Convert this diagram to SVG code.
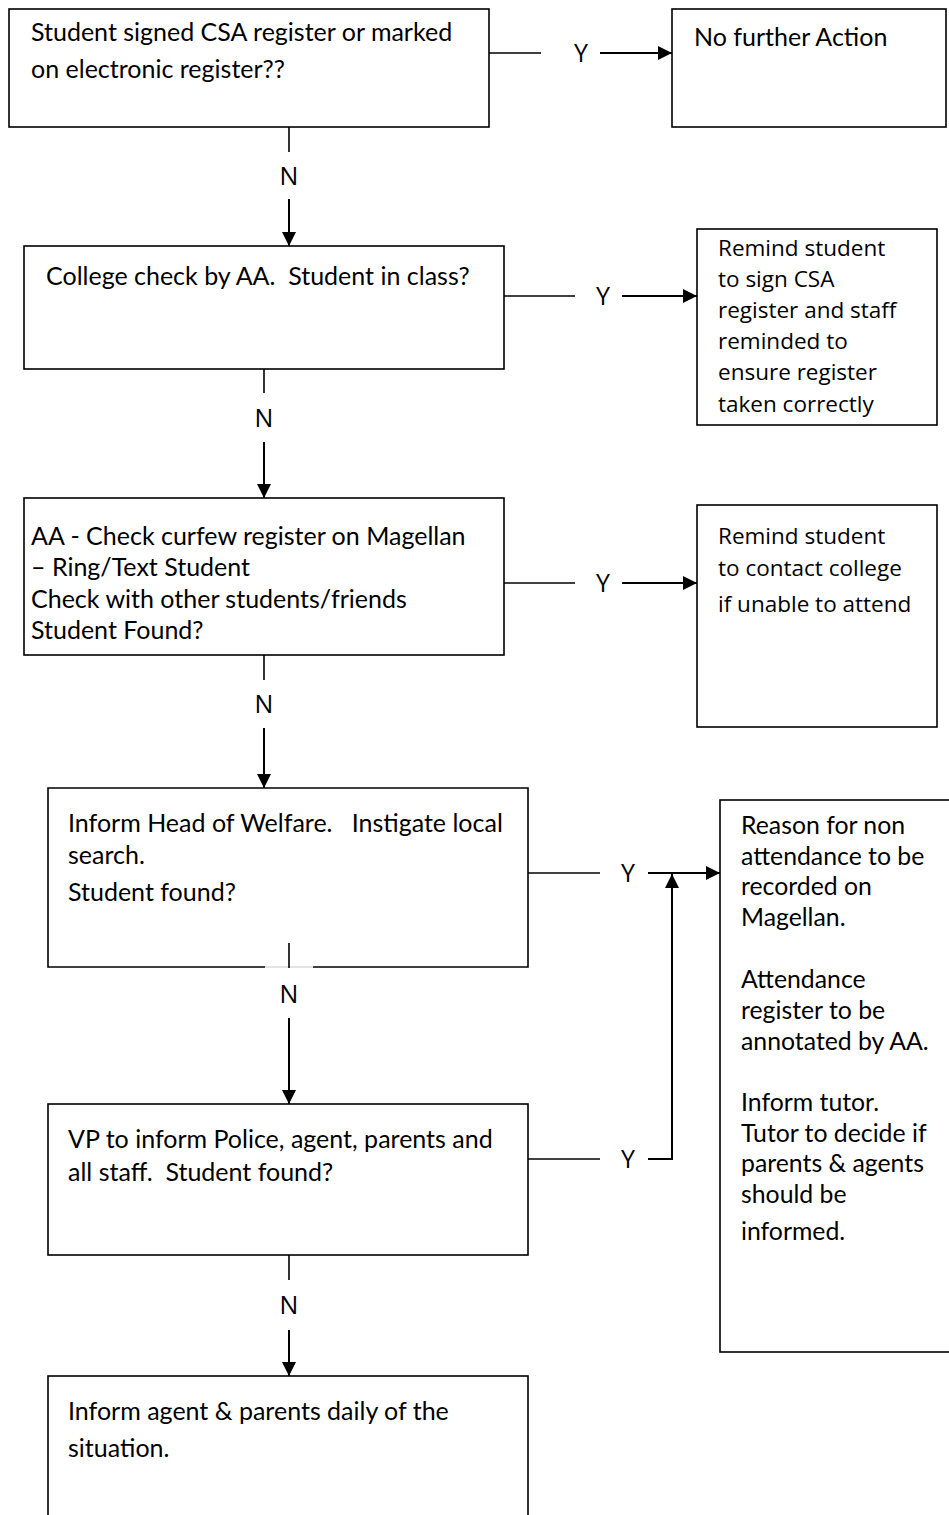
<svg xmlns="http://www.w3.org/2000/svg" width="949" height="1515" viewBox="0 0 949 1515">
<defs>
<style>
.box{fill:#fff;stroke:#000;stroke-width:1.6}
.ln{fill:none;stroke:#000;stroke-width:1.6}
.ar{fill:none;stroke:#000;stroke-width:2}
.t{font-family:Lato,"Liberation Sans",sans-serif;font-size:25px;fill:#000}
.r{font-family:"Open Sans","Liberation Sans",sans-serif;font-size:22.5px;fill:#000}
.g{font-family:Lato,"Liberation Sans",sans-serif;font-size:24.8px;fill:#000}
.lab{font-family:"Open Sans","Liberation Sans",sans-serif;font-size:25px;fill:#000;text-anchor:middle}
</style>
<marker id="ahb" viewBox="0 0 10 10" refX="10" refY="5" markerWidth="7" markerHeight="7" orient="auto">
<path d="M0,0 L10,5 L0,10 z" fill="#000"/>
</marker>
</defs>
<rect width="949" height="1515" fill="#fff"/>

<g id="n1">
<rect class="box" x="9" y="9" width="480" height="118"/>
<text class="t" x="31" y="41">Student signed CSA register or marked</text>
<text class="t" x="31" y="78">on electronic register??</text>
</g>
<g id="n1y">
<rect class="box" x="672" y="9" width="274" height="118"/>
<text class="t" x="694" y="46">No further Action</text>
</g>

<g id="n2">
<rect class="box" x="24" y="246" width="480" height="123"/>
<text class="t" x="46" y="285" xml:space="preserve">College check by AA.  Student in class?</text>
</g>
<g id="n2y">
<rect class="box" x="697" y="229" width="240" height="196"/>
<text class="r" x="718" y="256">Remind student</text>
<text class="r" x="718" y="287">to sign CSA</text>
<text class="r" x="718" y="318">register and staff</text>
<text class="r" x="718" y="349">reminded to</text>
<text class="r" x="718" y="380">ensure register</text>
<text class="r" x="718" y="412">taken correctly</text>
</g>

<g id="n3">
<rect class="box" x="24" y="498" width="480" height="157"/>
<text class="t" x="31" y="545">AA - Check curfew register on Magellan</text>
<text class="t" x="31" y="576">– Ring/Text Student</text>
<text class="t" x="31" y="608">Check with other students/friends</text>
<text class="t" x="31" y="639">Student Found?</text>
</g>
<g id="n3y">
<rect class="box" x="697" y="505" width="240" height="222"/>
<text class="r" x="718" y="544">Remind student</text>
<text class="r" x="718" y="576">to contact college</text>
<text class="r" x="718" y="612">if unable to attend</text>
</g>

<g id="n4">
<path class="box" d="M313,967 H528 V788 H48 V967 H265"/>
<line x1="265" y1="967" x2="313" y2="967" stroke="#c8c8c8" stroke-width="1"/>
<text class="t" x="68" y="832" xml:space="preserve">Inform Head of Welfare.   Instigate local</text>
<text class="t" x="68" y="864">search.</text>
<text class="t" x="68" y="901">Student found?</text>
</g>

<g id="n4y">
<rect class="box" x="720" y="800" width="245" height="552"/>
<text class="g" x="741" y="834">Reason for non</text>
<text class="g" x="741" y="865">attendance to be</text>
<text class="g" x="741" y="895">recorded on</text>
<text class="g" x="741" y="926">Magellan.</text>
<text class="g" x="741" y="988">Attendance</text>
<text class="g" x="741" y="1019">register to be</text>
<text class="g" x="741" y="1050">annotated by AA.</text>
<text class="g" x="741" y="1111">Inform tutor.</text>
<text class="g" x="741" y="1142">Tutor to decide if</text>
<text class="g" x="741" y="1172">parents &amp; agents</text>
<text class="g" x="741" y="1203">should be</text>
<text class="g" x="741" y="1240">informed.</text>
</g>

<g id="n5">
<rect class="box" x="48" y="1104" width="480" height="151"/>
<text class="t" x="68" y="1148">VP to inform Police, agent, parents and</text>
<text class="t" x="68" y="1181" xml:space="preserve">all staff.  Student found?</text>
</g>

<g id="n6">
<rect class="box" x="48" y="1376" width="480" height="160"/>
<text class="t" x="68" y="1420">Inform agent &amp; parents daily of the</text>
<text class="t" x="68" y="1457">situation.</text>
</g>

<g id="connectors">
<line class="ln" x1="489" y1="53" x2="541" y2="53"/>
<line class="ar" x1="600" y1="53" x2="672" y2="53" marker-end="url(#ahb)"/>
<line class="ln" x1="504" y1="296" x2="575" y2="296"/>
<line class="ar" x1="622" y1="296" x2="697" y2="296" marker-end="url(#ahb)"/>
<line class="ln" x1="504" y1="583" x2="575" y2="583"/>
<line class="ar" x1="622" y1="583" x2="697" y2="583" marker-end="url(#ahb)"/>
<line class="ln" x1="528" y1="873" x2="600" y2="873"/>
<line class="ar" x1="648" y1="873" x2="720" y2="873" marker-end="url(#ahb)"/>
<line class="ln" x1="528" y1="1159" x2="600" y2="1159"/>
<path class="ar" d="M648,1159 H672 V874" marker-end="url(#ahb)"/>

<line class="ln" x1="289" y1="127" x2="289" y2="152"/>
<line class="ar" x1="289" y1="199" x2="289" y2="246" marker-end="url(#ahb)"/>
<line class="ln" x1="264" y1="369" x2="264" y2="393"/>
<line class="ar" x1="264" y1="442" x2="264" y2="498" marker-end="url(#ahb)"/>
<line class="ln" x1="264" y1="655" x2="264" y2="680"/>
<line class="ar" x1="264" y1="728" x2="264" y2="788" marker-end="url(#ahb)"/>
<line class="ln" x1="289" y1="943" x2="289" y2="968"/>
<line class="ar" x1="289" y1="1018" x2="289" y2="1104" marker-end="url(#ahb)"/>
<line class="ln" x1="289" y1="1255" x2="289" y2="1280"/>
<line class="ar" x1="289" y1="1330" x2="289" y2="1376" marker-end="url(#ahb)"/>

<text class="lab" x="581" y="62">Y</text>
<text class="lab" x="603" y="305">Y</text>
<text class="lab" x="603" y="592">Y</text>
<text class="lab" x="628" y="882">Y</text>
<text class="lab" x="628" y="1168">Y</text>
<text class="lab" x="289" y="185">N</text>
<text class="lab" x="264" y="427">N</text>
<text class="lab" x="264" y="713">N</text>
<text class="lab" x="289" y="1003">N</text>
<text class="lab" x="289" y="1314">N</text>
</g>
</svg>
